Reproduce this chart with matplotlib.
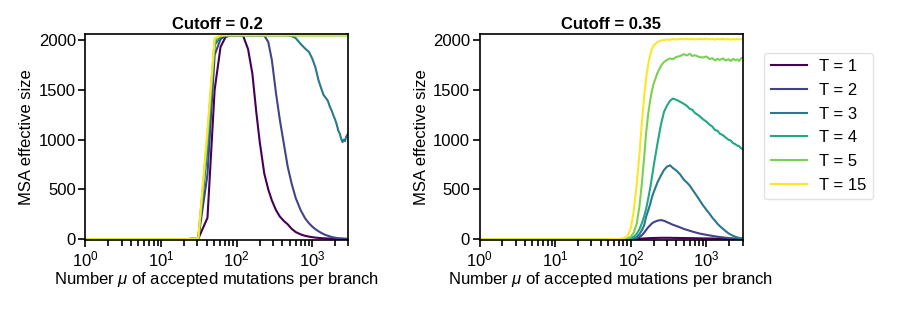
import numpy as np
import matplotlib
matplotlib.use("Agg")
import matplotlib.pyplot as plt

plt.rcParams["font.family"] = ["Liberation Sans", "DejaVu Sans"]
plt.rcParams["mathtext.fontset"] = "custom"
plt.rcParams["mathtext.rm"] = "Liberation Sans"
plt.rcParams["mathtext.it"] = "Liberation Sans:italic"

labels = ["T = 1", "T = 2", "T = 3", "T = 4", "T = 5", "T = 15"]
colors = ["#440154", "#414487", "#2a788e", "#22a884", "#7ad151", "#fde725"]

# cutoff 0.2
mu_left = [1, 11, 21, 31, 41, 51, 61, 71, 81, 101, 121, 141, 161, 181, 201, 231, 261,
           291, 331, 371, 421, 471, 531, 601, 701, 801, 901, 1001, 1101, 1201, 1301,
           1401, 1501, 1601, 1701, 1801, 1901, 2001, 2101, 2201, 2301, 2401, 2501,
           2601, 2701, 2801, 2901, 3001]
left_T1 = [0, 0, 0, 5, 215, 1500, 1930, 2030, 2046, 2048, 2045, 1910, 1660, 1280, 980,
           660, 500, 390, 290, 228, 182, 150, 105, 72, 48, 34, 26, 20, 16, 13, 11,
           9, 8, 7, 6, 5, 5, 4, 4, 3, 3, 3, 3, 2, 2, 2, 2, 2]
left_T2 = [0, 0, 0, 6, 650, 1850, 2010, 2040, 2048, 2048, 2048, 2048, 2048, 2048, 2048,
           2046, 1980, 1800, 1460, 1200, 950, 730, 560, 415, 290, 210, 160, 125, 100,
           80, 65, 52, 42, 35, 28, 22, 18, 15, 12, 10, 9, 8, 7, 6, 6, 5, 5, 5]
left_T3 = [0, 0, 0, 8, 900, 1950, 2035, 2046, 2048, 2048, 2048, 2048, 2048, 2048, 2048,
           2048, 2048, 2048, 2048, 2048, 2048, 2046, 2040, 2020, 1960, 1915, 1880, 1810,
           1720, 1600, 1520, 1450, 1420, 1390, 1330, 1290, 1240, 1200, 1150, 1090,
           1060, 1010, 975, 1000, 985, 1030, 1050, 1065]
left_T4 = [0, 0, 0, 9, 1000, 1980, 2040, 2048] + [2048] * 40
left_T5 = [0, 0, 0, 10, 1050, 2000, 2045, 2048] + [2048] * 40
left_T15 = [0, 0, 0, 10, 1100, 2020, 2046, 2048] + [2048] * 40

# cutoff 0.35
mu_right = [1, 50, 70, 80, 90, 100, 110, 120, 130, 140, 150, 160, 170, 180, 190, 200,
            225, 250, 275, 300, 330, 360, 400, 450, 500, 550, 600, 650, 700, 800, 900,
            1000, 1100, 1200, 1300, 1400, 1500, 1650, 1800, 1950, 2100, 2250, 2400,
            2550, 2700, 2850, 3000]
right_T1 = [0, 0, 0, 0, 0, 1, 2, 3, 5, 6, 8, 9, 10, 11, 12, 12, 13, 14, 14, 14, 14, 13,
            13, 12, 12, 11, 11, 10, 10, 9, 8, 8, 7, 7, 6, 6, 5, 5, 4, 4, 4, 3, 3, 3, 3, 3, 3]
right_T2 = [0, 0, 0, 0, 1, 2, 5, 10, 22, 40, 65, 95, 120, 140, 158, 170, 186, 192, 185,
            172, 158, 145, 133, 118, 104, 94, 85, 77, 70, 58, 50, 44, 38, 33, 29, 25, 22,
            18, 15, 12, 10, 8, 7, 6, 5, 5, 4]
right_T3 = [0, 0, 0, 0, 1, 3, 8, 22, 50, 90, 140, 230, 290, 350, 420, 470, 570, 640, 695,
            728, 742, 715, 690, 650, 600, 570, 540, 500, 465, 400, 340, 295, 255, 215, 185,
            155, 132, 105, 80, 60, 45, 34, 25, 18, 13, 10, 8]
right_T4 = [0, 0, 0, 1, 3, 10, 26, 55, 100, 160, 230, 310, 410, 510, 620, 730, 960, 1150,
            1280, 1340, 1390, 1412, 1400, 1380, 1360, 1340, 1310, 1300, 1270, 1240, 1205,
            1180, 1150, 1130, 1095, 1090, 1060, 1045, 1020, 1000, 990, 965, 955, 940, 935,
            915, 905]
right_T5 = [0, 0, 1, 3, 8, 25, 70, 160, 330, 560, 820, 1080, 1260, 1390, 1490, 1560, 1670,
            1740, 1780, 1800, 1815, 1808, 1830, 1840, 1858, 1845, 1862, 1840, 1848, 1830,
            1825, 1835, 1810, 1818, 1795, 1812, 1800, 1815, 1795, 1808, 1790, 1812, 1798,
            1805, 1790, 1815, 1822]
right_T15 = [0, 0, 3, 10, 30, 110, 300, 560, 850, 1170, 1430, 1630, 1760, 1850, 1910, 1945,
             1980, 1995, 2000, 2006, 2003, 2010, 2005, 2012, 2008, 2013, 2007, 2011, 2006,
             2012, 2008, 2014, 2007, 2010, 2005, 2011, 2008, 2012, 2006, 2010, 2004, 2009,
             2006, 2011, 2005, 2009, 2007]

panels = [
    ("Cutoff = 0.2", mu_left, [left_T1, left_T2, left_T3, left_T4, left_T5, left_T15]),
    ("Cutoff = 0.35", mu_right, [right_T1, right_T2, right_T3, right_T4, right_T5, right_T15]),
]

fs = 12

fig = plt.figure(figsize=(8.97, 3.09), dpi=100)
ax1 = fig.add_axes([0.0953, 0.2233, 0.2932, 0.668])
ax2 = fig.add_axes([0.5346, 0.2233, 0.2932, 0.668])

for ax, (title, mu, series) in zip([ax1, ax2], panels):
    for ys, lab, col in zip(series, labels, colors):
        ax.plot(mu, ys, color=col, lw=1.5, label=lab)
    ax.set_xscale("log")
    ax.set_xlim(1, 3000)
    ax.set_ylim(-8, 2065)
    ax.set_yticks([0, 500, 1000, 1500, 2000])
    ax.set_title(title, fontsize=fs, fontweight="bold", pad=3)
    ax.set_xlabel(r"Number $\mu$ of accepted mutations per branch", fontsize=fs, labelpad=0)
    ax.set_ylabel("MSA effective size", fontsize=fs, labelpad=3)
    ax.tick_params(axis="both", which="major", labelsize=fs, length=5, width=1.2, pad=2)
    ax.tick_params(axis="x", which="minor", length=4, width=1.2)
    for s in ax.spines.values():
        s.set_linewidth(1.2)

leg = ax2.legend(loc="upper left", bbox_to_anchor=(1.082, 0.908), borderaxespad=0,
                 fontsize=fs, handlelength=2.2, handletextpad=0.7, labelspacing=0.52,
                 frameon=True)
leg.get_frame().set_edgecolor("#dddddd")

fig.savefig("out.png", dpi=100)
